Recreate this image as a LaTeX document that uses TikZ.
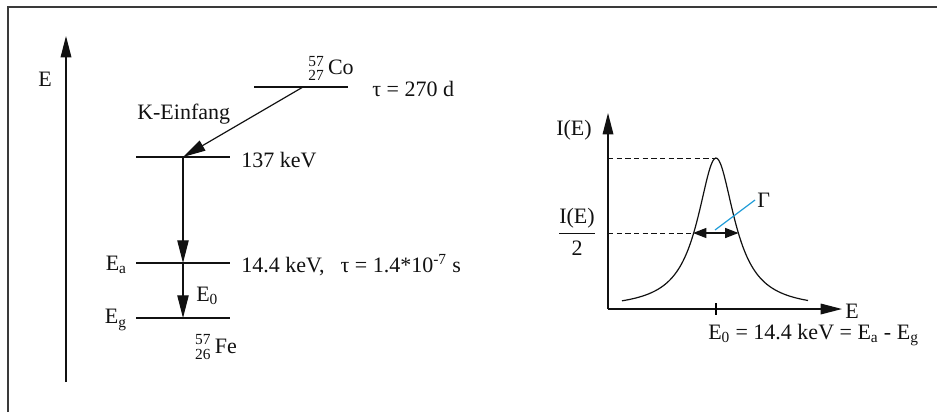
\documentclass[tikz,border=0pt]{standalone}
\usepackage{amsmath}
\usepackage{fontspec}
\setmainfont{Liberation Serif}
\usepackage{tikz}
\usetikzlibrary{
arrows.meta,
positioning,
calc
}
\definecolor{MBFrame}{HTML}{3A3A3A}
\definecolor{MBInk}{HTML}{111111}
\definecolor{MBCyan}{HTML}{1E9BD7}
\tikzset{
mblevel/.style={draw=MBInk, line width=1pt},
mbarrow/.style={-{Triangle[length=17pt, width=8.5pt]}, line width=0.9pt, draw=MBInk},
mbaxis/.style={-{Triangle[length=16pt, width=8pt]}, line width=0.9pt, draw=MBInk},
mbwidth/.style={{Triangle[length=10pt, width=7.5pt]}-{Triangle[length=10pt, width=7.5pt]}, line width=0.9pt, draw=MBInk},
mbdashed/.style={dashed, dash pattern=on 4pt off 2.5pt, line width=0.6pt, draw=MBInk},
mblabel/.style={font=\fontsize{16.5}{19}\selectfont, text=MBInk, inner sep=0pt},
mbcurve/.style={line width=0.9pt, draw=MBInk}
}

\begin{document}
\begin{tikzpicture}[x=0.75pt, y=-0.75pt]
\useasboundingbox (0,0) rectangle (937,412);
\draw[MBFrame, line width=0.8pt] (8,412) |- (937,7);

% energy axis
\coordinate (eaxis-b) at (66,382);
\coordinate (eaxis-t) at (66,36);
\draw[mbaxis] (eaxis-b) -- (eaxis-t);
\node[mblabel] (elabel) at (45,79) {E};

% levels
\coordinate (co-l) at (254,87);
\coordinate (co-r) at (348,87);
\coordinate (co-m) at (303,87);
\coordinate (k-l) at (136,157);
\coordinate (k-r) at (230,157);
\coordinate (k-m) at (183,157);
\coordinate (a-l) at (136,263);
\coordinate (a-r) at (230,263);
\coordinate (a-m) at (183,263);
\coordinate (g-l) at (136,318);
\coordinate (g-r) at (230,318);
\coordinate (g-m) at (183,318);
\draw[mblevel] (co-l) -- (co-r);
\draw[mblevel] (k-l) -- (k-r);
\draw[mblevel] (a-l) -- (a-r);
\draw[mblevel] (g-l) -- (g-r);

\draw[mbarrow] (co-m) -- (k-m);
\draw[mbarrow] (k-m) -- (a-m);
\draw[mbarrow] (a-m) -- (g-m);

\node[mblabel] (co) at (331,68) {${}^{\text{57}}_{\text{27}}$\,Co};
\node[mblabel, anchor=west] (tauco) at (372,89) {τ = 270 d};
\node[mblabel, anchor=west] (kein) at (137,114) {K-Einfang};
\node[mblabel, anchor=west] (k137) at (241,160) {137 keV};
\node[mblabel, anchor=east] (ea) at (127,265) {E\textsubscript{a}};
\node[mblabel, anchor=west] (k144) at (241,265) {14.4 keV,\hspace{12pt}τ = 1.4*10\textsuperscript{-7} s};
\node[mblabel, anchor=west] (e0) at (196,296) {E\textsubscript{0}};
\node[mblabel, anchor=east] (eg) at (127,320) {E\textsubscript{g}};
\node[mblabel] (fe) at (216,347) {${}^{\text{57}}_{\text{26}}$\,Fe};

% line shape
\coordinate (o) at (608,309);
\coordinate (iaxis-t) at (608,113);
\coordinate (xaxis-r) at (842,309);
\draw[mbaxis] (o) -- (iaxis-t);
\draw[mbaxis] (o) -- (xaxis-r);
\node[mblabel] (ilabel) at (574,130) {I(E)};
\node[mblabel, anchor=west] (xlabel) at (845,311) {E};

\coordinate (peak) at (716,158);
\coordinate (half-l) at (693,233);
\coordinate (half-r) at (738.5,233);
\draw[mbdashed] (608,158) -- (peak);
\draw[mbdashed] (608,233) -- (half-l);
\draw[mbcurve] plot[domain=622:808, samples=120, smooth]
  (\x, {309 - 151/(1+((\x-716)/22.5)^2)});
\draw[mbwidth] (half-l) -- (half-r);
\draw[line width=0.8pt] (716,303) -- (716,315);

\node[mblabel] (half) at (577,232) {$\dfrac{\text{I(E)}}{\text{2}}$};
\coordinate (gam-a) at (715,230);
\coordinate (gam-b) at (755,200);
\draw[MBCyan, line width=0.9pt] (gam-a) -- (gam-b);
\node[mblabel, anchor=west] (gam) at (757,200) {Γ};
\node[mblabel, anchor=west] (e0eq) at (708,335) {E\textsubscript{0} = 14.4 keV = E\textsubscript{a} - E\textsubscript{g}};
\end{tikzpicture}
\end{document}
